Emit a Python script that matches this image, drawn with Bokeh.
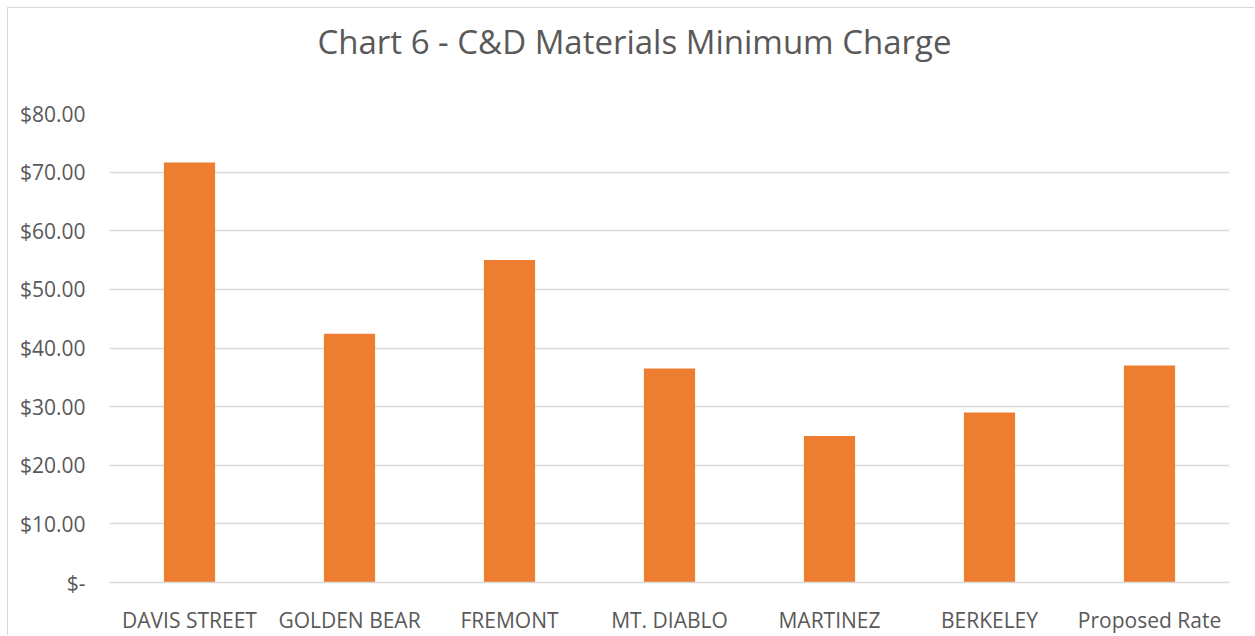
from bokeh.plotting import figure
from bokeh.models import Range1d, FixedTicker, ColumnDataSource, Title
from bokeh.embed import file_html
from bokeh.resources import INLINE

categories = ["DAVIS STREET", "GOLDEN BEAR", "FREMONT", "MT. DIABLO",
              "MARTINEZ", "BERKELEY", "Proposed Rate"]
charges = [71.65, 42.45, 55.00, 36.50, 25.00, 29.00, 37.00]
y_ticks = [0, 10, 20, 30, 40, 50, 60, 70, 80]
y_tick_labels = ["$-", "$10.00", "$20.00", "$30.00", "$40.00",
                 "$50.00", "$60.00", "$70.00", "$80.00"]
title_text = "Chart 6 - C&D Materials Minimum Charge"

FONT = "Open Sans"
TXT = "#595959"
GRID = "#d9d9d9"

src = ColumnDataSource(dict(cat=categories, val=charges))

p = figure(x_range=categories, y_range=Range1d(0, 80),
           width=1247, height=628,
           output_backend="svg", toolbar_location=None,
           min_border_left=101, min_border_right=26,
           min_border_top=105, min_border_bottom=50)
p.styles = {"margin-left": "7px", "margin-top": "7px",
            "border-left": "1px solid #d9d9d9", "border-top": "1px solid #d9d9d9"}

p.title.text = title_text
p.title.align = "left"
p.title.offset = 208
p.title.standoff = 0
p.title.text_font = FONT
p.title.text_font_size = "33px"
p.title.text_font_style = "normal"
p.title.text_color = TXT

# spacer between title and plot area
p.add_layout(Title(text=" ", text_font_size="33px", standoff=11), "above")

p.vbar(x="cat", top="val", width=0.32, source=src,
       fill_color="#ED7D31", line_color=None)

p.outline_line_color = None
p.xgrid.grid_line_color = None
p.ygrid.grid_line_color = GRID
p.ygrid.grid_line_width = 1.5

p.yaxis.ticker = FixedTicker(ticks=y_ticks)
p.yaxis.major_label_overrides = {t: l for t, l in zip(y_ticks, y_tick_labels)}
p.yaxis.axis_line_color = None
p.yaxis.major_tick_line_color = None
p.yaxis.minor_tick_line_color = None
p.yaxis.major_label_standoff = 18
p.yaxis.major_label_text_font = FONT
p.yaxis.major_label_text_font_size = "21px"
p.yaxis.major_label_text_color = TXT

p.xaxis.axis_line_color = GRID
p.xaxis.axis_line_width = 1.5
p.xaxis.major_tick_line_color = None
p.xaxis.minor_tick_line_color = None
p.xaxis.major_label_standoff = 17
p.xaxis.major_label_text_font = FONT
p.xaxis.major_label_text_font_size = "21px"
p.xaxis.major_label_text_color = TXT

open("out.html", "w").write(file_html(p, INLINE))
